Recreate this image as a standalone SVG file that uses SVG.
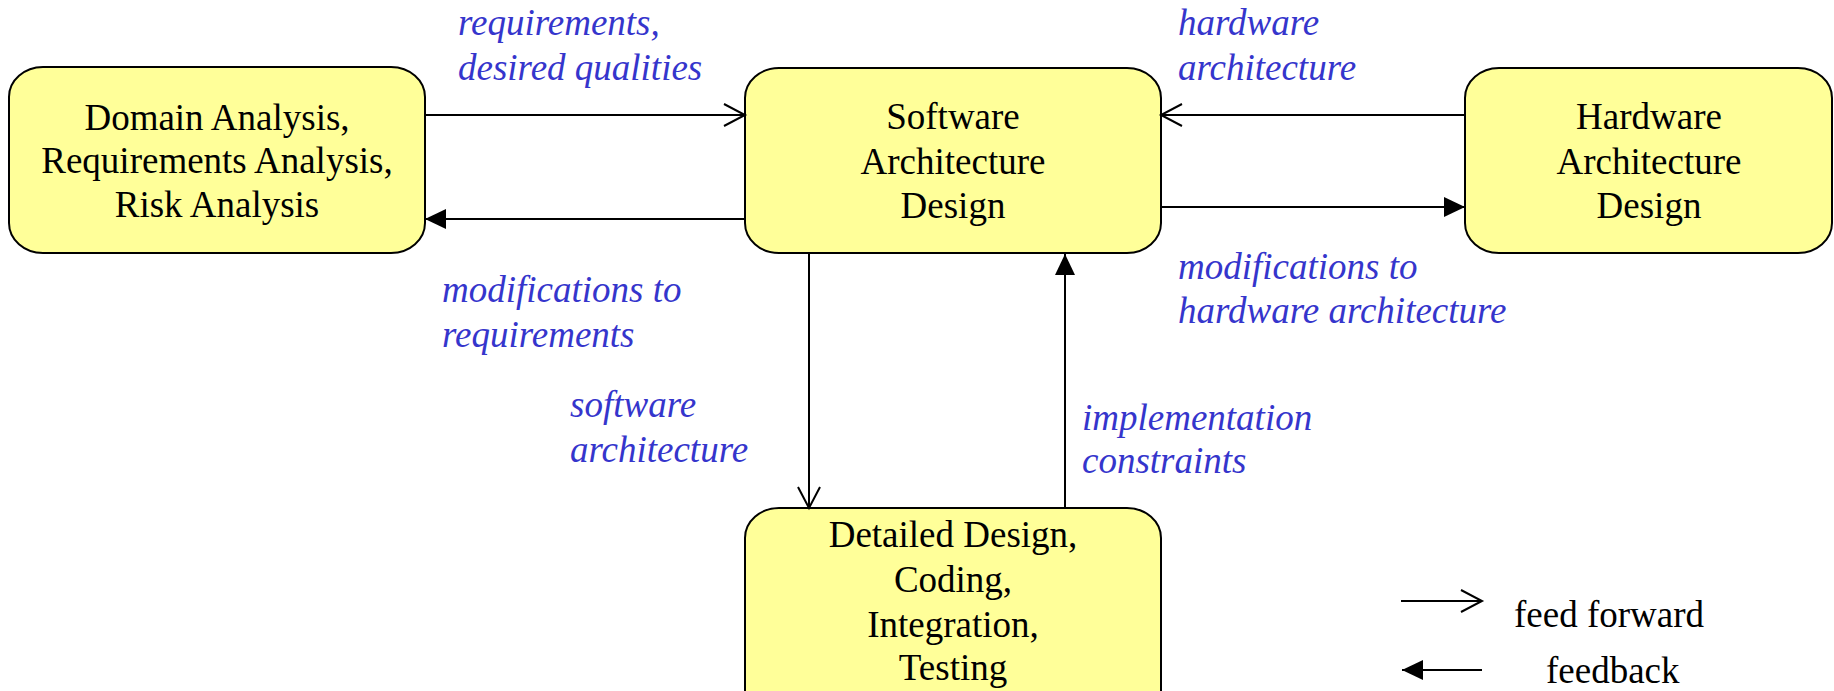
<svg xmlns="http://www.w3.org/2000/svg" width="1834" height="691" viewBox="0 0 1834 691">
  <style>
    .box { fill: #ffff99; stroke: #000; stroke-width: 2; }
    .name { font-family: "Liberation Serif", "Times New Roman", serif; font-size: 37px; fill: #000; text-anchor: middle; }
    .flow { font-family: "Liberation Serif", "Times New Roman", serif; font-size: 37px; font-style: italic; fill: #3535cc; }
    .legend { font-family: "Liberation Serif", "Times New Roman", serif; font-size: 37px; fill: #000; }
    .wire { stroke: #000; stroke-width: 2; fill: none; }
  </style>
  <defs>
    <marker id="open" markerUnits="userSpaceOnUse" markerWidth="26" markerHeight="26" refX="22" refY="12" orient="auto" overflow="visible">
      <path d="M1,1 L22,12 L1,23" fill="none" stroke="#000" stroke-width="2"/>
    </marker>
    <marker id="solid" markerUnits="userSpaceOnUse" markerWidth="26" markerHeight="26" refX="21" refY="12" orient="auto" overflow="visible">
      <path d="M0,2 L21,12 L0,22 Z" fill="#000"/>
    </marker>
  </defs>

  <g id="domain-analysis">
    <rect class="box" x="9" y="67" width="416" height="186" rx="34" ry="30"/>
    <text class="name" x="217" y="130">Domain Analysis,</text>
    <text class="name" x="217" y="173">Requirements Analysis,</text>
    <text class="name" x="217" y="217">Risk Analysis</text>
  </g>

  <g id="software-architecture">
    <rect class="box" x="745" y="68" width="416" height="185" rx="34" ry="30"/>
    <text class="name" x="953" y="129">Software</text>
    <text class="name" x="953" y="174">Architecture</text>
    <text class="name" x="953" y="218">Design</text>
  </g>

  <g id="hardware-architecture">
    <rect class="box" x="1465" y="68" width="367" height="185" rx="34" ry="30"/>
    <text class="name" x="1649" y="129">Hardware</text>
    <text class="name" x="1649" y="174">Architecture</text>
    <text class="name" x="1649" y="218">Design</text>
  </g>

  <g id="detailed-design">
    <rect class="box" x="745" y="508" width="416" height="230" rx="34" ry="30"/>
    <text class="name" x="953" y="547">Detailed Design,</text>
    <text class="name" x="953" y="592">Coding,</text>
    <text class="name" x="953" y="637">Integration,</text>
    <text class="name" x="953" y="680">Testing</text>
  </g>

  <g id="connectors">
    <line class="wire" x1="425" y1="115" x2="745" y2="115" marker-end="url(#open)"/>
    <line class="wire" x1="745" y1="219" x2="425" y2="219" marker-end="url(#solid)"/>
    <line class="wire" x1="1465" y1="115" x2="1161" y2="115" marker-end="url(#open)"/>
    <line class="wire" x1="1161" y1="207" x2="1465" y2="207" marker-end="url(#solid)"/>
    <line class="wire" x1="809" y1="253" x2="809" y2="508" marker-end="url(#open)"/>
    <line class="wire" x1="1065" y1="508" x2="1065" y2="254" marker-end="url(#solid)"/>
  </g>

  <g id="flow-labels">
    <text class="flow" x="458" y="35">requirements,</text>
    <text class="flow" x="458" y="80">desired qualities</text>
    <text class="flow" x="1178" y="35">hardware</text>
    <text class="flow" x="1178" y="80">architecture</text>
    <text class="flow" x="442" y="302">modifications to</text>
    <text class="flow" x="442" y="347">requirements</text>
    <text class="flow" x="1178" y="279">modifications to</text>
    <text class="flow" x="1178" y="323">hardware architecture</text>
    <text class="flow" x="570" y="417">software</text>
    <text class="flow" x="570" y="462">architecture</text>
    <text class="flow" x="1082" y="430">implementation</text>
    <text class="flow" x="1082" y="473">constraints</text>
  </g>

  <g id="legend">
    <line class="wire" x1="1401" y1="601" x2="1482" y2="601" marker-end="url(#open)"/>
    <text class="legend" x="1514" y="627">feed forward</text>
    <line class="wire" x1="1482" y1="670" x2="1402" y2="670" marker-end="url(#solid)"/>
    <text class="legend" x="1546" y="683">feedback</text>
  </g>
</svg>
